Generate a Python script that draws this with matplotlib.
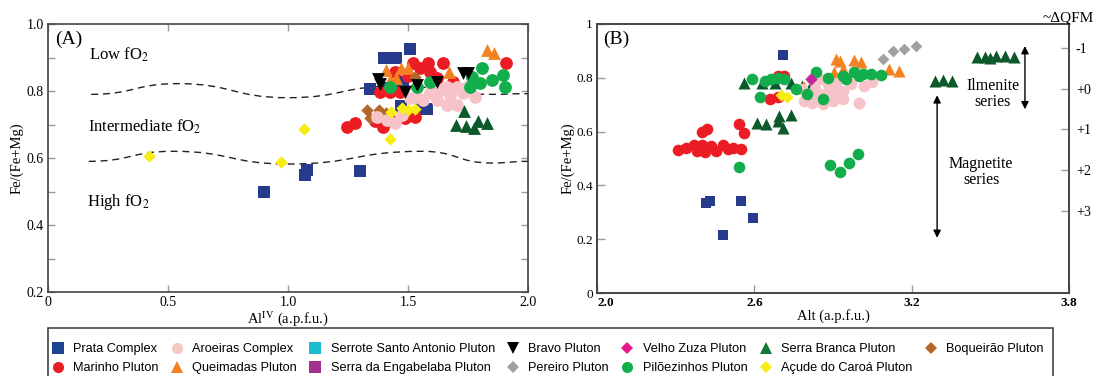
import matplotlib
matplotlib.use('Agg')
import matplotlib.pyplot as plt
from matplotlib.lines import Line2D
from matplotlib.path import Path
from matplotlib.patches import PathPatch, Rectangle

plt.rcParams['font.family'] = ['Liberation Serif', 'DejaVu Serif']
plt.rcParams['mathtext.fontset'] = 'stix'

# ---------------- Panel A: Fe/(Fe+Mg) vs Al(IV) ----------------
prata_a_x = [0.90, 1.07, 1.08, 1.30, 1.40, 1.43, 1.45, 1.51, 1.34, 1.48, 1.56, 1.58, 1.47, 1.40]
prata_a_y = [0.50, 0.55, 0.565, 0.56, 0.90, 0.90, 0.90, 0.925, 0.805, 0.826, 0.75, 0.745, 0.755, 0.81]

marinho_a_x = [1.52, 1.585, 1.647, 1.91, 1.592, 1.446, 1.383, 1.425, 1.467, 1.245, 1.279,
               1.362, 1.397, 1.487, 1.529, 1.689, 1.55, 1.62, 1.50, 1.42]
marinho_a_y = [0.883, 0.883, 0.883, 0.883, 0.858, 0.858, 0.798, 0.798, 0.798, 0.693, 0.703,
               0.709, 0.693, 0.718, 0.723, 0.828, 0.87, 0.84, 0.845, 0.72]

queimadas_a_x = [1.83, 1.86, 1.41, 1.47, 1.50, 1.67, 1.425, 1.45]
queimadas_a_y = [0.922, 0.912, 0.863, 0.868, 0.868, 0.858, 0.833, 0.84]

boqueirao_a_x = [1.33, 1.38, 1.41, 1.34, 1.53]
boqueirao_a_y = [0.743, 0.743, 0.733, 0.718, 0.843]

aroeiras_a_x = [1.536, 1.592, 1.633, 1.661, 1.703, 1.745, 1.779, 1.619, 1.661, 1.703, 1.564,
                1.675, 1.73, 1.508, 1.369, 1.411, 1.446, 1.474]
aroeiras_a_y = [0.783, 0.793, 0.803, 0.813, 0.813, 0.813, 0.783, 0.773, 0.758, 0.758, 0.773,
                0.788, 0.793, 0.78, 0.723, 0.713, 0.703, 0.728]

acude_a_x = [0.42, 0.97, 1.065, 1.425, 1.43, 1.475, 1.50, 1.53]
acude_a_y = [0.607, 0.587, 0.688, 0.658, 0.738, 0.748, 0.743, 0.745]

pilo_a_x = [1.425, 1.807, 1.849, 1.897, 1.904, 1.758, 1.765, 1.80, 1.592, 1.536]
pilo_a_y = [0.813, 0.868, 0.833, 0.848, 0.811, 0.813, 0.843, 0.823, 0.828, 0.813]

branca_a_x = [1.735, 1.70, 1.74, 1.775, 1.79, 1.83]
branca_a_y = [0.74, 0.70, 0.695, 0.69, 0.71, 0.705]

bravo_a_x = [1.375, 1.385, 1.487, 1.536, 1.62, 1.73, 1.75]
bravo_a_y = [0.835, 0.82, 0.798, 0.818, 0.828, 0.853, 0.855]

# fO2 field boundaries (dashed curves)
upper_curve_x = [0.18, 0.54, 1.0, 1.45, 1.85, 2.0]
upper_curve_y = [0.79, 0.822, 0.78, 0.815, 0.79, 0.792]
lower_curve_x = [0.17, 0.52, 1.0, 1.56, 1.85, 2.0]
lower_curve_y = [0.59, 0.62, 0.582, 0.62, 0.585, 0.59]

# ---------------- Panel B: Fe/(Fe+Mg) vs Al total ----------------
prata_b_x = [2.71, 2.415, 2.43, 2.55, 2.595, 2.48]
prata_b_y = [0.884, 0.335, 0.342, 0.341, 0.279, 0.216]

marinho_b_x = [2.31, 2.37, 2.40, 2.435, 2.48, 2.52, 2.55, 2.38, 2.41, 2.455, 2.40, 2.42,
               2.54, 2.56, 2.69, 2.715, 2.66, 2.69, 2.34, 2.50]
marinho_b_y = [0.531, 0.549, 0.552, 0.546, 0.552, 0.54, 0.534, 0.527, 0.524, 0.527, 0.598, 0.608,
               0.627, 0.596, 0.807, 0.807, 0.72, 0.73, 0.54, 0.535]

aroeiras_b_x = [2.78, 2.80, 2.82, 2.85, 2.86, 2.88, 2.90, 2.91, 2.94, 2.97, 3.0, 3.02, 3.05,
                2.79, 2.82, 2.86, 2.90, 2.94, 3.0, 2.84, 2.87, 2.89, 2.83]
aroeiras_b_y = [0.76, 0.74, 0.795, 0.795, 0.72, 0.776, 0.714, 0.782, 0.72, 0.776, 0.708, 0.77, 0.785,
                0.714, 0.708, 0.701, 0.745, 0.75, 0.708, 0.745, 0.74, 0.72, 0.76]

pilo_b_x = [2.54, 2.59, 2.64, 2.665, 2.69, 2.715, 2.62, 2.80, 2.835, 2.86, 2.95, 3.0, 3.045,
            2.94, 2.98, 3.015, 3.083, 2.89, 2.925, 2.96, 2.995, 2.76, 2.88]
pilo_b_y = [0.468, 0.795, 0.789, 0.795, 0.801, 0.797, 0.73, 0.739, 0.82, 0.72, 0.795, 0.807, 0.813,
            0.807, 0.82, 0.813, 0.81, 0.475, 0.45, 0.484, 0.517, 0.76, 0.80]

branca_b_x = [2.56, 2.63, 2.68, 2.74, 2.78, 2.81, 2.61, 2.645, 2.695, 2.71, 2.74, 2.69,
              3.29, 3.32, 3.355, 3.45, 3.48, 3.52, 3.555, 3.59, 3.50]
branca_b_y = [0.78, 0.78, 0.78, 0.782, 0.77, 0.757, 0.633, 0.627, 0.658, 0.615, 0.66, 0.639,
              0.789, 0.793, 0.789, 0.879, 0.876, 0.882, 0.882, 0.876, 0.872]

queimadas_b_x = [2.91, 2.925, 2.98, 3.005, 2.905, 2.94, 3.115, 3.15, 2.79]
queimadas_b_y = [0.869, 0.863, 0.866, 0.860, 0.82, 0.832, 0.832, 0.826, 0.764]

pereiro_b_x = [3.09, 3.13, 3.17, 3.215]
pereiro_b_y = [0.869, 0.90, 0.907, 0.92]

zuza_b_x = [2.815]
zuza_b_y = [0.795]

acude_b_x = [2.725, 2.70]
acude_b_y = [0.73, 0.735]

# right-hand oxygen fugacity scale
qfm_ticks = [-1, 0, 1, 2, 3]
qfm_labels = ['-1', '+0', '+1', '+2', '+3']

# legend entries: (label, marker, colour)
legend_entries = [
    ('Prata Complex', 's', '#1f4592'),
    ('Marinho Pluton', 'o', '#ec1c24'),
    ('Aroeiras Complex', 'o', '#f6c6c0'),
    ('Queimadas Pluton', '^', '#f47f20'),
    ('Serrote Santo Antonio Pluton', 's', '#1bbccf'),
    ('Serra da Engabelaba Pluton', 's', '#a3328f'),
    ('Bravo Pluton', 'v', 'black'),
    ('Pereiro Pluton', 'D', '#a0a0a0'),
    ('Velho Zuza Pluton', 'D', '#e8188c'),
    ('Pilõezinhos Pluton', 'o', '#12ae4b'),
    ('Serra Branca Pluton', '^', '#0f7a3a'),
    ('Açude do Caroá Pluton', 'D', '#f7ec13'),
    ('Boqueirão Pluton', 'D', '#b3682a'),
]

C_PRATA = '#263b8c'
C_MARINHO = '#ec1c24'
C_AROEIRAS = '#f7c3c8'
C_QUEIM = '#f58220'
C_BRAVO = 'black'
C_PEREIRO = '#a0a0a0'
C_ZUZA = '#c02a98'
C_PILO = '#12ae4b'
C_BRANCA = '#0c5a2c'
C_ACUDE = '#f7ec13'
C_BOQ = '#b3682a'

SPINE = '#444444'
TICK = '#999999'


def smooth_curve(xs, ys):
    """Bezier path through the given points with flat tangents at each one."""
    verts = [(xs[0], ys[0])]
    codes = [Path.MOVETO]
    for i in range(1, len(xs)):
        dx = xs[i] - xs[i - 1]
        verts += [(xs[i - 1] + dx / 2, ys[i - 1]), (xs[i] - dx / 2, ys[i]), (xs[i], ys[i])]
        codes += [Path.CURVE4] * 3
    return Path(verts, codes)


def style_axes(ax):
    for s in ax.spines.values():
        s.set_color(SPINE)
        s.set_linewidth(1.2)


fig = plt.figure(figsize=(11.02, 3.76), dpi=100)
ax1 = fig.add_axes([48 / 1102, 84 / 376, 480 / 1102, 268 / 376])
ax2 = fig.add_axes([597 / 1102, 83 / 376, 472 / 1102, 269 / 376])

# ---- Panel A ----
for xs, ys in [(upper_curve_x, upper_curve_y), (lower_curve_x, lower_curve_y)]:
    ax1.add_patch(PathPatch(smooth_curve(xs, ys), fill=False, edgecolor='#222222',
                            linewidth=1.0, linestyle=(0, (5, 3.5)), zorder=1))

ax1.scatter(prata_a_x, prata_a_y, marker='s', s=75, color=C_PRATA, linewidths=0, zorder=2)
ax1.scatter(marinho_a_x, marinho_a_y, marker='o', s=85, color=C_MARINHO, linewidths=0, zorder=3)
ax1.scatter(queimadas_a_x, queimadas_a_y, marker='^', s=85, color=C_QUEIM, linewidths=0, zorder=3)
ax1.scatter(boqueirao_a_x, boqueirao_a_y, marker='D', s=40, color=C_BOQ, linewidths=0, zorder=3)
ax1.scatter(aroeiras_a_x, aroeiras_a_y, marker='o', s=85, color=C_AROEIRAS, linewidths=0, zorder=4)
ax1.scatter(acude_a_x, acude_a_y, marker='D', s=40, color=C_ACUDE, linewidths=0, zorder=4)
ax1.scatter(pilo_a_x, pilo_a_y, marker='o', s=85, color=C_PILO, linewidths=0, zorder=4)
ax1.scatter(branca_a_x, branca_a_y, marker='^', s=85, color=C_BRANCA, linewidths=0, zorder=4)
ax1.scatter(bravo_a_x, bravo_a_y, marker='v', s=85, color=C_BRAVO, linewidths=0, zorder=5)

ax1.set_xlim(0, 2.0)
ax1.set_ylim(0.2, 1.0)
ax1.set_xticks([0, 0.5, 1.0, 1.5, 2.0])
ax1.set_xticklabels(['0', '0.5', '1.0', '1.5', '2.0'])
ax1.set_yticks([0.2, 0.4, 0.6, 0.8, 1.0])
ax1.set_yticks([0.3, 0.5, 0.7, 0.9], minor=True)
ax1.tick_params(which='both', direction='in', top=True, right=True, color=TICK,
                length=5, width=1, labelsize=10, pad=3)
ax1.set_xlabel(r'Al$^{\mathrm{IV}}$ (a.p.f.u.)', fontsize=10.5, labelpad=0)
ax1.set_ylabel('Fe/(Fe+Mg)', fontsize=10.5, labelpad=2)
style_axes(ax1)

ax1.text(0.015, 0.975, '(A)', transform=ax1.transAxes, fontsize=14, ha='left', va='top')
ax1.text(0.17, 0.907, r'Low fO$_2$', fontsize=12, va='center')
ax1.text(0.167, 0.693, r'Intermediate fO$_2$', fontsize=12, va='center')
ax1.text(0.163, 0.469, r'High fO$_2$', fontsize=12, va='center')

# ---- Panel B ----
ax2.scatter(prata_b_x, prata_b_y, marker='s', s=62, color=C_PRATA, linewidths=0, zorder=2)
ax2.scatter(branca_b_x, branca_b_y, marker='^', s=75, color=C_BRANCA, linewidths=0, zorder=2)
ax2.scatter(marinho_b_x, marinho_b_y, marker='o', s=70, color=C_MARINHO, linewidths=0, zorder=3)
ax2.scatter(acude_b_x, acude_b_y, marker='D', s=38, color=C_ACUDE, linewidths=0, zorder=3)
ax2.scatter(queimadas_b_x, queimadas_b_y, marker='^', s=75, color=C_QUEIM, linewidths=0, zorder=3)
ax2.scatter(aroeiras_b_x, aroeiras_b_y, marker='o', s=70, color=C_AROEIRAS, linewidths=0, zorder=4)
ax2.scatter(pilo_b_x, pilo_b_y, marker='o', s=70, color=C_PILO, linewidths=0, zorder=4)
ax2.scatter(pereiro_b_x, pereiro_b_y, marker='D', s=36, color=C_PEREIRO, linewidths=0, zorder=4)
ax2.scatter(zuza_b_x, zuza_b_y, marker='D', s=40, color=C_ZUZA, linewidths=0, zorder=5)

ax2.set_xlim(2.0, 3.8)
ax2.set_ylim(0, 1)
ax2.set_xticks([2.0, 2.6, 3.2, 3.8])
ax2.set_xticklabels(['2.0', '2.6', '3.2', '3.8'], fontweight='bold')
ax2.get_xticklabels()[0].set_horizontalalignment('left')
ax2.set_yticks([0, 0.2, 0.4, 0.6, 0.8, 1.0])
ax2.set_yticklabels(['0', '0.2', '0.4', '0.6', '0.8', '1'])
ax2.tick_params(direction='in', color=TICK, length=6, width=1, labelsize=9.5, pad=3)
ax2.set_xlabel('Alt (a.p.f.u.)', fontsize=10.5, labelpad=0)
ax2.set_ylabel('Fe/(Fe+Mg)', fontsize=10.5, labelpad=1)
style_axes(ax2)
ax2.text(0.012, 0.975, '(B)', transform=ax2.transAxes, fontsize=14, ha='left', va='top')

# oxygen fugacity relative to QFM on the right side
axq = ax2.twinx()
axq.set_ylim(5.03, -1.6)
axq.set_yticks(qfm_ticks)
axq.set_yticklabels(qfm_labels)
axq.tick_params(direction='in', color=TICK, length=6, width=1, labelsize=10, pad=5)
style_axes(axq)
fig.text(1043 / 1102, 1 - 18 / 376, '~ΔQFM', fontsize=11, ha='left', va='center')

# ilmenite / magnetite series arrows
arrow = dict(arrowstyle='<|-|>', color='black', lw=1.0, mutation_scale=11, shrinkA=0, shrinkB=0)
ax2.annotate('', xy=(3.632, 0.918), xytext=(3.632, 0.683), arrowprops=arrow)
ax2.annotate('', xy=(3.297, 0.735), xytext=(3.297, 0.205), arrowprops=arrow)
ax2.text(3.51, 0.739, 'Ilmenite\nseries', fontsize=11.5, ha='center', va='center', linespacing=1.0)
ax2.text(3.465, 0.45, 'Magnetite\nseries', fontsize=11.5, ha='center', va='center', linespacing=1.0)

# ---- shared legend (own frame, open at the bottom edge of the figure) ----
handles = [Line2D([], [], marker=m, color=c, linestyle='None', markersize=8 if m != 'D' else 6.5,
                  markeredgewidth=0) for _, m, c in legend_entries]
labels = [name for name, _, _ in legend_entries]
fig.legend(handles, labels, ncol=7, loc='upper left',
           bbox_to_anchor=(51.5 / 1102, 1 - 343 / 376, 992 / 1102, 0), mode='expand',
           prop={'family': 'Liberation Sans', 'size': 9.2}, frameon=False,
           handlelength=1.0, handletextpad=0.7, columnspacing=1.0,
           borderpad=0, labelspacing=0.55, borderaxespad=0)
fig.patches.append(Rectangle((48 / 1102, -0.02), 1005 / 1102, 0.02 + 48 / 376,
                             transform=fig.transFigure, fill=False, edgecolor=SPINE,
                             linewidth=1.2))

fig.savefig('out.png', dpi=100)
